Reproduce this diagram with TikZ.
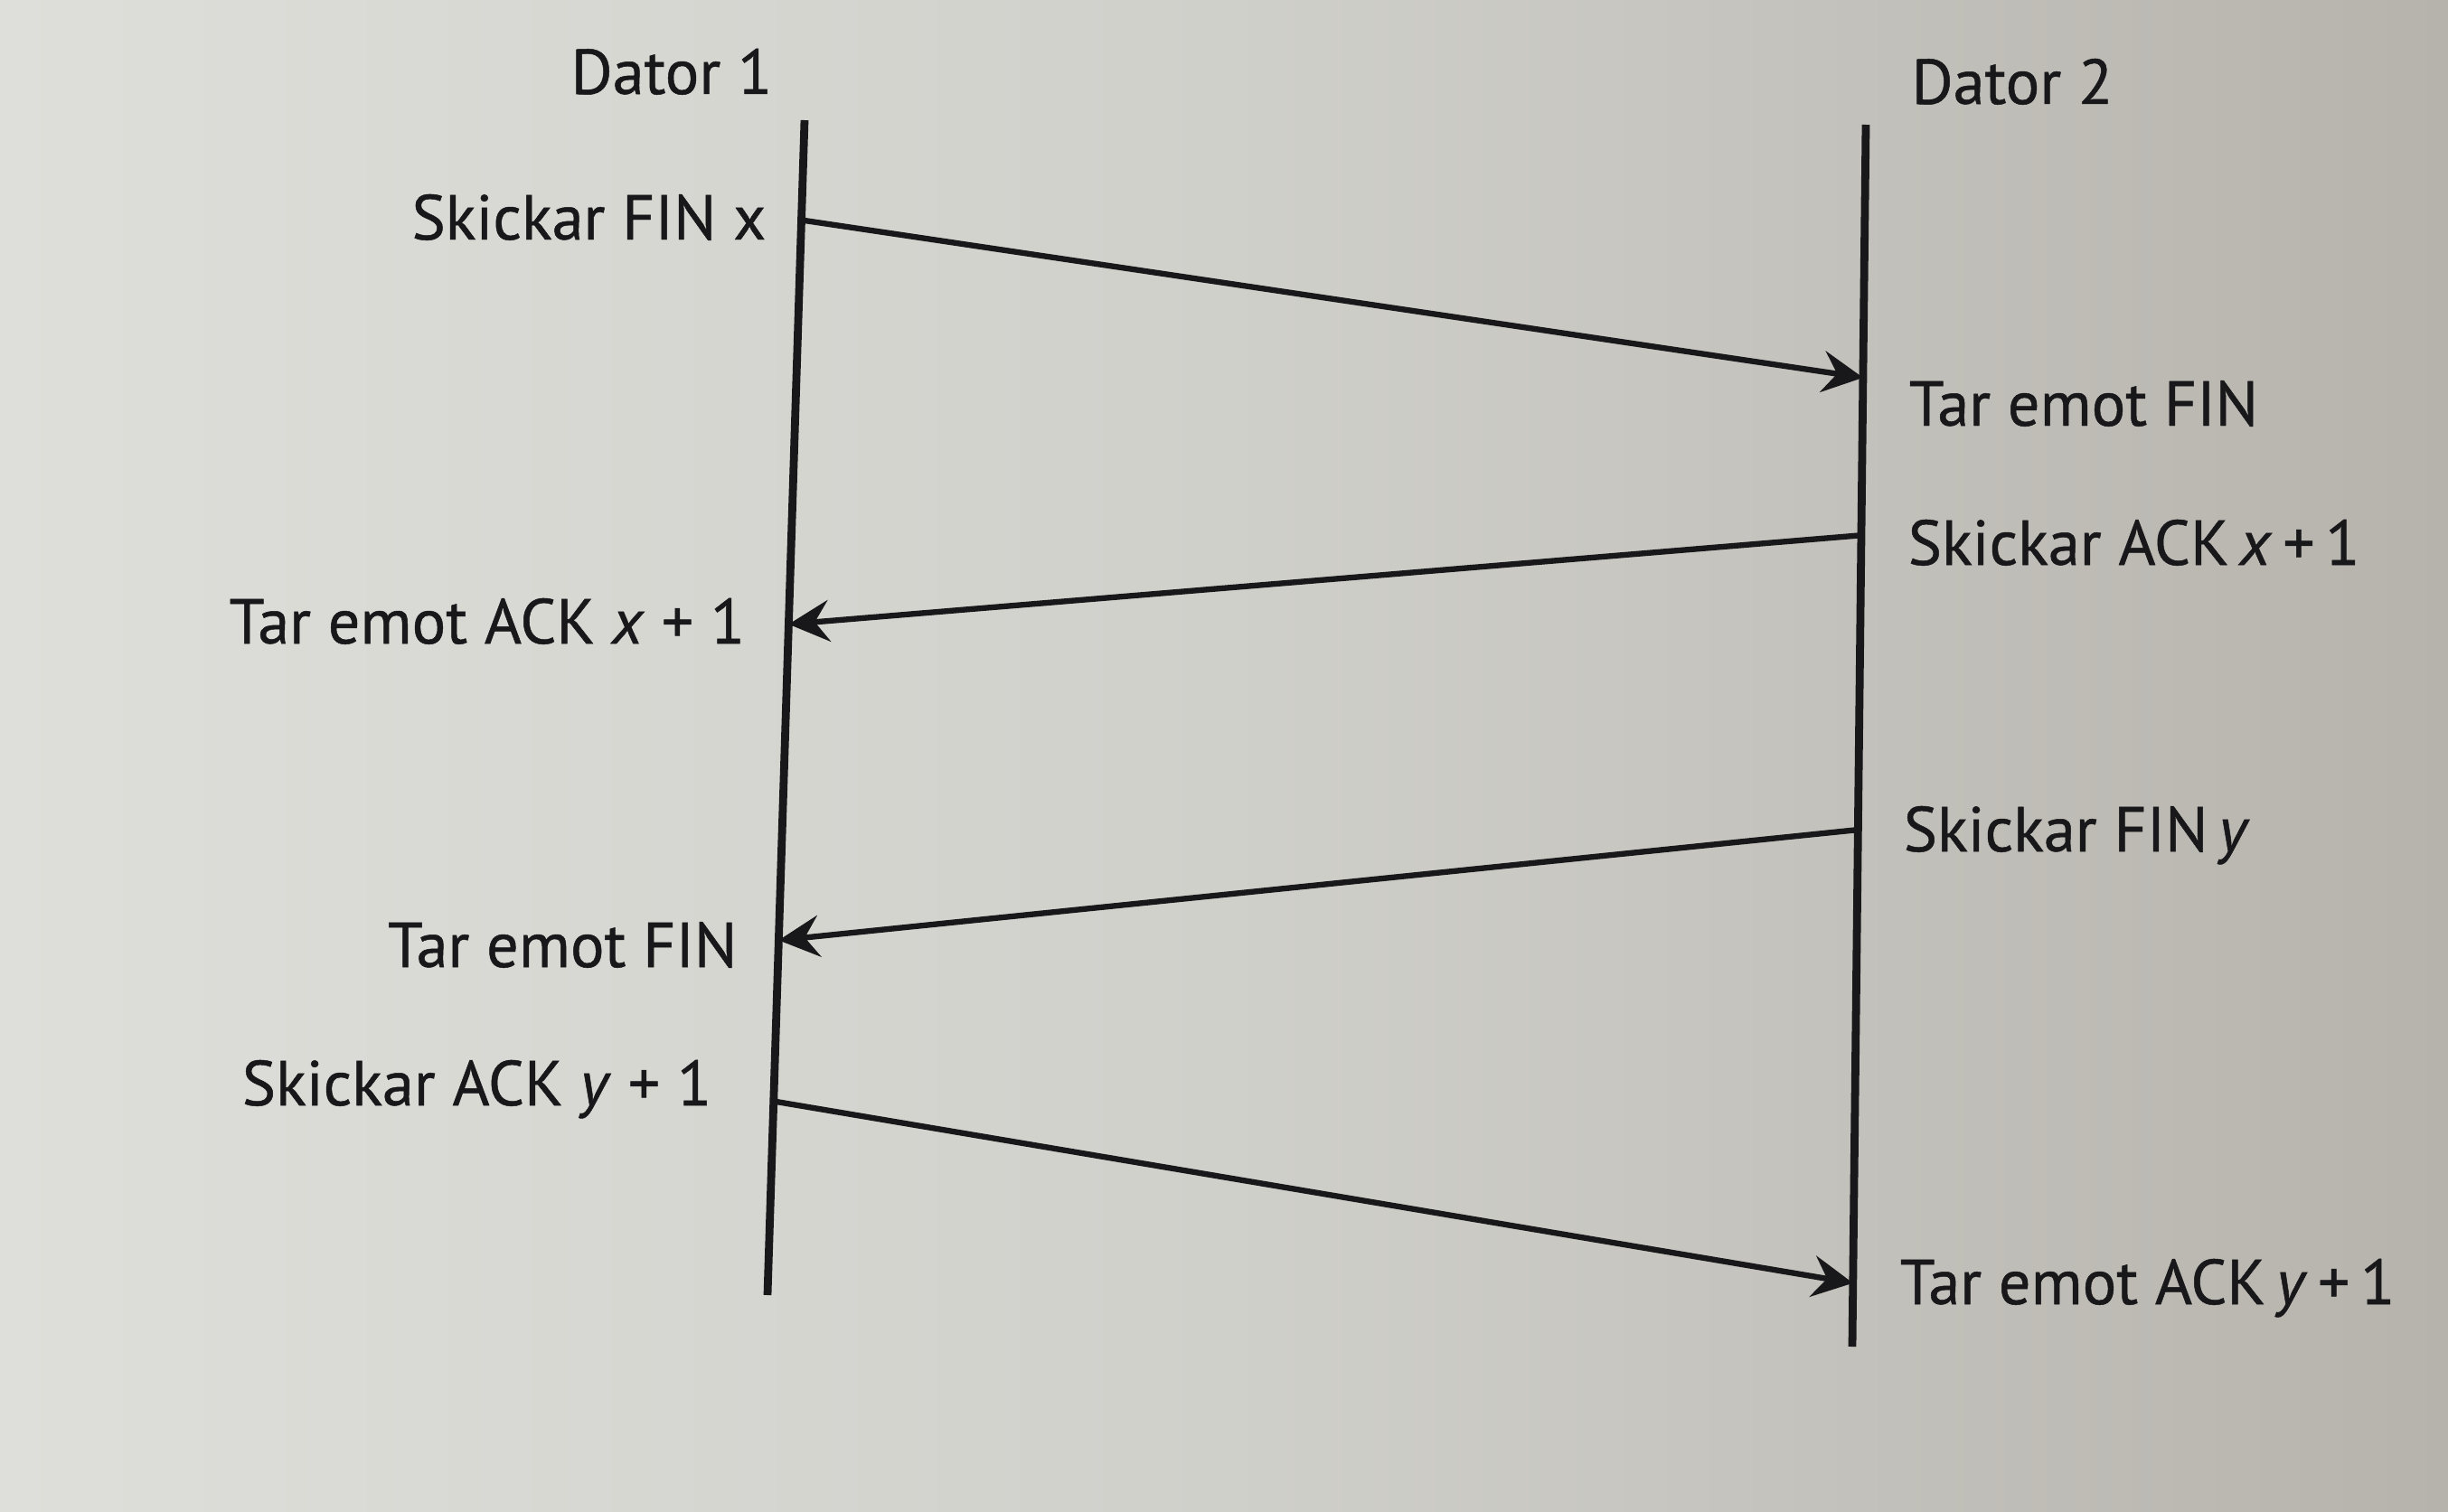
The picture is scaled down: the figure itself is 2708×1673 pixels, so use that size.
\documentclass[tikz,border=0pt]{standalone}
\usepackage{fontspec}
\setmainfont{PT Sans}
\newfontfamily\lblfont{PT Sans}[FakeBold=0.7]
\usepackage{xcolor}
\usetikzlibrary{arrows.meta, positioning, calc}
\definecolor{inkblack}{RGB}{24, 23, 26}
\definecolor{paperlight}{RGB}{222, 223, 218}
\definecolor{papermid}{RGB}{208, 208, 203}
\definecolor{paperdark}{RGB}{182, 179, 172}

\begin{document}
\begin{tikzpicture}[
        x=0.1mm, y=-0.1mm,
        lifeline/.style={draw=inkblack, line width=2.5pt},
        msg/.style={draw=inkblack, line width=1.8pt,
                    -{Stealth[length=4.5mm, width=4.6mm, inset=1.6mm]}},
        lbl/.style={inner sep=0pt, text=inkblack,
                    font=\lblfont\fontsize{20}{24}\selectfont}
    ]
        % Paper
        \shade[left color=paperlight, right color=paperdark, middle color=papermid]
            (0,0) rectangle (2708,1673);
        \useasboundingbox (0,0) rectangle (2708,1673);

        % Lifelines
        \coordinate (d1top) at (890,133);
        \coordinate (d1bot) at (849,1433);
        \coordinate (d2top) at (2064,138);
        \coordinate (d2bot) at (2049,1490);
        \draw[lifeline] (d1top) -- (d1bot);
        \draw[lifeline] (d2top) -- (d2bot);

        % Headers
        \node[lbl, anchor=base east] (dator1) at (855,104) {Dator 1};
        \node[lbl, anchor=base west] (dator2) at (2114,115) {Dator 2};

        % Message points on the lifelines
        \coordinate (finx1) at ($(d1top)!0.085!(d1bot)$);
        \coordinate (finx2) at ($(d2top)!0.207!(d2bot)$);
        \coordinate (ackx2) at ($(d2top)!0.336!(d2bot)$);
        \coordinate (ackx1) at ($(d1top)!0.429!(d1bot)$);
        \coordinate (finy2) at ($(d2top)!0.577!(d2bot)$);
        \coordinate (finy1) at ($(d1top)!0.698!(d1bot)$);
        \coordinate (acky1) at ($(d1top)!0.835!(d1bot)$);
        \coordinate (acky2) at ($(d2top)!0.948!(d2bot)$);

        % Labels
        \node[lbl, anchor=base east] (sendfinx) at (848,265) {Skickar FIN x};
        \node[lbl, anchor=base west] (recvfinx) at (2111,471) {Tar emot FIN};
        \node[lbl, anchor=base west] (sendackx) at (2110,625) {Skickar ACK\,\textit{x}\,+\,1};
        \node[lbl, anchor=base east] (recvackx) at (825,712) {Tar emot ACK \textit{x} + 1};
        \node[lbl, anchor=base west] (sendfiny) at (2105,942) {Skickar FIN\,\textit{y}};
        \node[lbl, anchor=base east] (recvfiny) at (816,1070) {Tar emot FIN};
        \node[lbl, anchor=base east] (sendacky) at (788,1223) {Skickar ACK \textit{y} + 1};
        \node[lbl, anchor=base west] (recvacky) at (2101,1443) {Tar emot ACK\,\textit{y}\,+\,1};

        % Messages
        \draw[msg] (finx1) -- (finx2);
        \draw[msg] (ackx2) -- (ackx1);
        \draw[msg] (finy2) -- (finy1);
        \draw[msg] (acky1) -- (acky2);
    \end{tikzpicture}
\end{document}
